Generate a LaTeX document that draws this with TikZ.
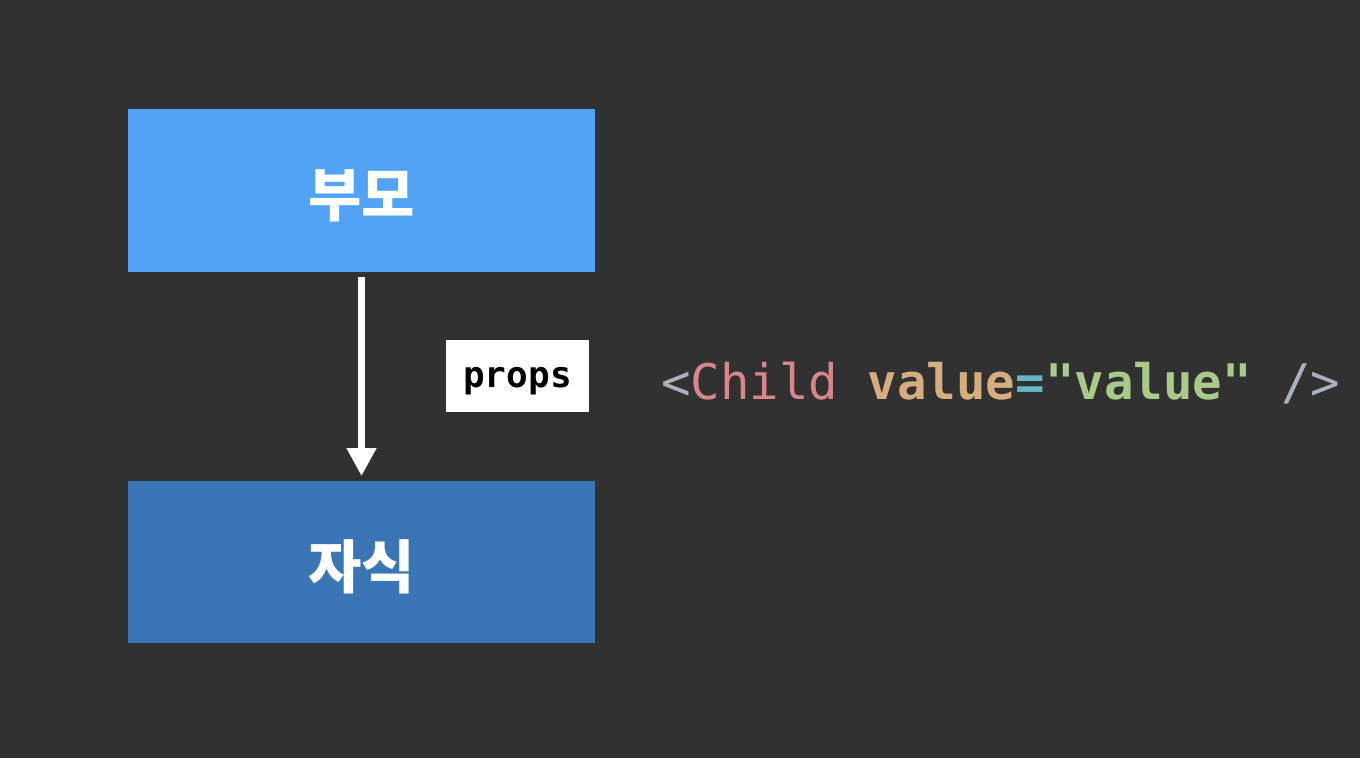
\documentclass[tikz,border=0pt]{standalone}
\usepackage{fontspec}
\usetikzlibrary{arrows.meta,positioning}
\newfontfamily\krfont{Noto Sans CJK KR}
\newfontfamily\codefont{DejaVu Sans Mono}
\definecolor{bgcol}{HTML}{313131}
\definecolor{parentcol}{HTML}{51A3F6}
\definecolor{childcol}{HTML}{3A76B5}
\definecolor{tagcol}{HTML}{ABB2BF}
\definecolor{namecol}{HTML}{D9868B}
\definecolor{attrcol}{HTML}{D6AE7E}
\definecolor{eqcol}{HTML}{63B7C6}
\definecolor{strcol}{HTML}{A9CB8A}
\tikzset{
  compbox/.style={minimum width=9.34cm, minimum height=3.26cm, inner sep=0pt,
    text height=29.6pt, text depth=0pt,
    text=white, font=\krfont\fontsize{33}{36}\selectfont\bfseries},
  propbox/.style={fill=white, minimum width=2.86cm, minimum height=1.44cm, inner sep=0pt,
    text height=13.6pt, text depth=0pt,
    font=\codefont\fontsize{20.5}{24}\selectfont\bfseries},
  flow/.style={white, line width=4pt, -{Triangle[width=16pt,length=16pt]}}
}
\begin{document}
\begin{tikzpicture}[x=0.02cm, y=-0.02cm]
        % background, same size as the slide
        \fill[bgcol] (0,0) rectangle (1360,758);
        \node[compbox, fill=parentcol] (parent) at (361.5,190.5) {부모};
        \node[compbox, fill=childcol] (child) at (361.5,562) {자식};
        \draw[flow] ([yshift=-0.1cm]parent.south) -- ([yshift=0.08cm]child.north);
        \node[propbox] (props) at (517.5,376) {props};
        % the jsx line
        \node[anchor=base west, inner sep=0pt,
              font=\codefont\fontsize{27.9}{32}\selectfont] (jsx) at (661,399)
          {\textcolor{tagcol}{<}\textcolor{namecol}{Child}
           \textcolor{attrcol}{\bfseries value}\textcolor{eqcol}{\bfseries =}\textcolor{strcol}{\bfseries "value"}
           \textcolor{tagcol}{/>}};
\end{tikzpicture}
\end{document}
